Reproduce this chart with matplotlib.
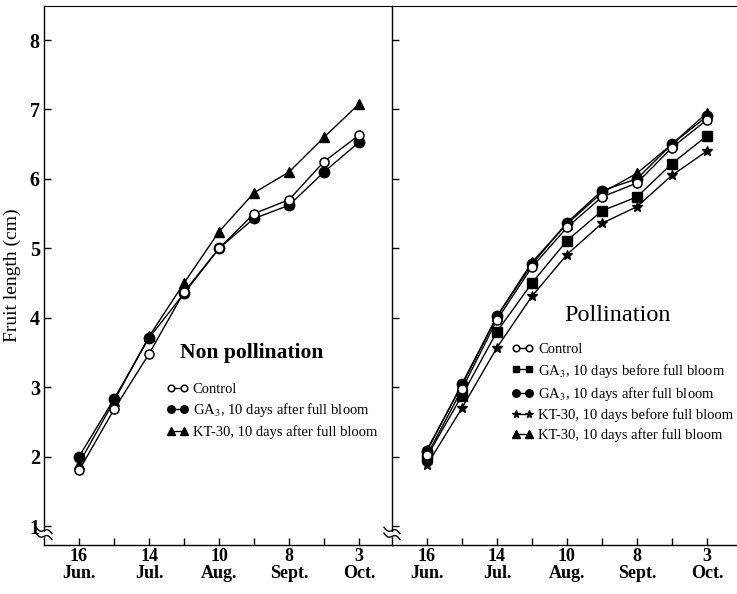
import numpy as np
import matplotlib
matplotlib.use("Agg")
import matplotlib.pyplot as plt
from matplotlib.lines import Line2D

plt.rcParams['font.family'] = ['Liberation Serif', 'DejaVu Serif']
plt.rcParams['mathtext.fontset'] = 'stix'

# ---------------- data ----------------
dates = ["16\nJun.", "", "14\nJul.", "", "10\nAug.", "", "8\nSept.", "", "3\nOct."]
x_idx = list(range(len(dates)))

# Non pollination
np_control = [1.80, 2.68, 3.48, 4.37, 5.00, 5.50, 5.70, 6.25, 6.63]
np_ga3_after = [2.00, 2.83, 3.71, 4.35, 5.00, 5.43, 5.62, 6.10, 6.53]
np_kt_after = [1.90, 2.80, 3.73, 4.50, 5.24, 5.80, 6.10, 6.60, 7.08]

# Pollination
p_control = [2.02, 2.97, 3.97, 4.73, 5.30, 5.74, 5.94, 6.45, 6.85]
p_ga3_before = [2.00, 2.88, 3.80, 4.50, 5.11, 5.54, 5.74, 6.22, 6.62]
p_ga3_after = [2.08, 3.05, 4.02, 4.77, 5.37, 5.83, 6.00, 6.50, 6.90]
p_kt_before = [1.88, 2.70, 3.57, 4.31, 4.91, 5.36, 5.60, 6.05, 6.40]
p_kt_after = [2.10, 3.03, 4.02, 4.80, 5.35, 5.80, 6.08, 6.50, 6.95]

yticks = [1, 2, 3, 4, 5, 6, 7, 8]

lab_control = "Control"
lab_ga3_before = "GA$_3$, 10 days before full bloom"
lab_ga3_after = "GA$_3$, 10 days after full bloom"
lab_kt_before = "KT-30, 10 days before full bloom"
lab_kt_after = "KT-30, 10 days after full bloom"

# ---------------- styles ----------------
sty = {
    'control': dict(marker='o', mfc='white', mec='black', ms=6.5, mew=1.1),
    'ga3_after': dict(marker='o', mfc='black', mec='black', ms=7.5),
    'kt_after': dict(marker='^', mfc='black', mec='black', ms=7.5),
    'ga3_before': dict(marker='s', mfc='black', mec='black', ms=6.5),
    'kt_before': dict(marker='*', mfc='black', mec='black', ms=7.5),
}

fig = plt.figure(figsize=(7.37, 5.94), dpi=100)
W, H = 737, 594
bottom = (H - 545) / H
height = (545 - 6) / H
axL = fig.add_axes([44 / W, bottom, (392 - 44) / W, height])
axR = fig.add_axes([392 / W, bottom, (737 - 392) / W, height])

ylim = (0.727, 8.49)


def style_axis(ax, xmax):
    ax.set_xlim(-1, xmax)
    ax.set_ylim(*ylim)
    ax.set_xticks(x_idx)
    ax.set_xticklabels(dates, fontsize=13, fontweight='bold', linespacing=1.05)
    ax.set_yticks(yticks)
    ax.tick_params(axis='both', direction='in', length=5, width=1.0, color='black')
    ax.tick_params(axis='x', pad=2)
    ax.tick_params(axis='y', pad=3, labelsize=14.5)
    for lab in ax.get_yticklabels():
        lab.set_fontweight('bold')
    for s in ax.spines.values():
        s.set_linewidth(1.0)
    ax.spines['top'].set_linewidth(0.8)
    ax.spines['right'].set_visible(False)
    # axis break mark near the bottom of the y axis
    yb = 0.016
    t = np.linspace(-1, 1, 30)
    wfrac = 8 / (ax.get_position().width * W)
    ax.fill_between([-0.004, 0.004], yb + 0.001, yb + 0.009, color='white',
                    transform=ax.transAxes, clip_on=False, zorder=5)
    for dy in (0.0, 0.011):
        xs = t * wfrac
        ys = yb + dy + 0.004 * np.sin(t * np.pi) - 0.006 * t
        ax.plot(xs, ys, color='black', lw=1.0, transform=ax.transAxes, clip_on=False, zorder=6)


style_axis(axL, 8.94)
style_axis(axR, 8.86)
axR.set_yticklabels([])

lw = 1.0
axL.plot(x_idx, np_ga3_after, color='black', lw=lw, **sty['ga3_after'], zorder=3)
axL.plot(x_idx, np_kt_after, color='black', lw=lw, **sty['kt_after'], zorder=3)
axL.plot(x_idx, np_control, color='black', lw=lw, **sty['control'], zorder=4)

axR.plot(x_idx, p_kt_before, color='black', lw=lw, **sty['kt_before'], zorder=3)
axR.plot(x_idx, p_ga3_before, color='black', lw=lw, **sty['ga3_before'], zorder=3)
axR.plot(x_idx, p_kt_after, color='black', lw=lw, **sty['kt_after'], zorder=3)
axR.plot(x_idx, p_ga3_after, color='black', lw=lw, **sty['ga3_after'], zorder=3)
axR.plot(x_idx, p_control, color='black', lw=lw, **sty['control'], zorder=4)

axL.set_ylabel("Fruit length (cm)", fontsize=14, labelpad=6)

axL.text(0.39, 0.356, "Non pollination", transform=axL.transAxes, fontsize=15.5,
         fontweight='bold', ha='left', va='center')
axR.text(0.50, 0.425, "Pollination", transform=axR.transAxes, fontsize=17.5,
         ha='left', va='center')


def handle(key):
    return Line2D([0], [0], color='black', lw=lw, **sty[key])


legL = axL.legend([handle('control'), handle('ga3_after'), handle('kt_after')],
                  [lab_control, lab_ga3_after, lab_kt_after],
                  loc='upper left', bbox_to_anchor=(0.335, 0.312), frameon=False,
                  numpoints=2, handlelength=1.5, handletextpad=0.3, labelspacing=0.38,
                  borderaxespad=0, fontsize=10.5, markerscale=0.72)

legR = axR.legend([handle('control'), handle('ga3_before'), handle('ga3_after'),
                   handle('kt_before'), handle('kt_after')],
                  [lab_control, lab_ga3_before, lab_ga3_after, lab_kt_before, lab_kt_after],
                  loc='upper left', bbox_to_anchor=(0.33, 0.386), frameon=False,
                  numpoints=2, handlelength=1.5, handletextpad=0.3, labelspacing=0.38,
                  borderaxespad=0, fontsize=10.5, markerscale=0.72)

fig.savefig("out.png", dpi=100)
